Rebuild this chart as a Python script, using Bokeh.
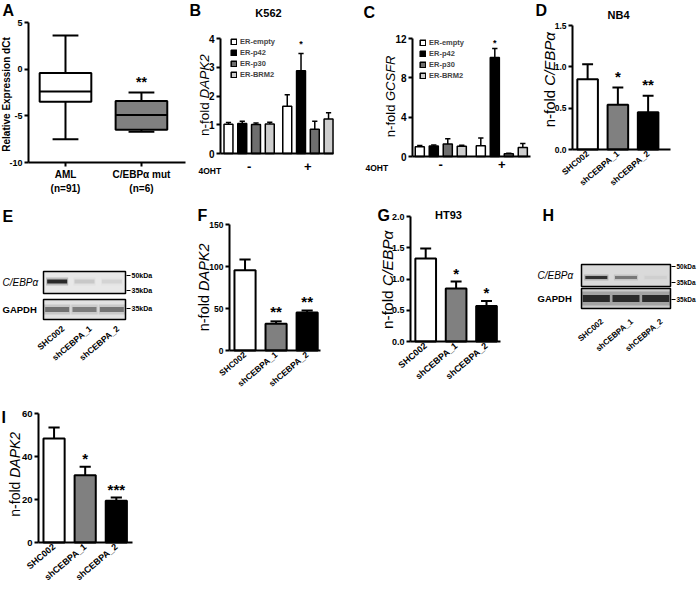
import math
from bokeh.plotting import figure
from bokeh.layouts import row, column
from bokeh.models import Range1d, FixedTicker, Label, Legend, LegendItem, LinearAxis
from bokeh.core.properties import value
from bokeh.embed import file_html
from bokeh.resources import INLINE

FONT = "Liberation Sans"

# ---------------- data ----------------
# A: relative expression dCt (box plot)
A_groups = ["AML\n(n=91)", "C/EBPα mut\n(n=6)"]
A_low = [-7.5, -6.7]
A_q1 = [-3.5, -6.5]
A_median = [-2.4, -4.9]
A_q3 = [-0.4, -3.4]
A_high = [3.6, -2.5]
A_sig = ["", "**"]
A_fill = ["white", "#808080"]
A_yticks = [-10, -5, 0, 5]
A_ytick_labels = ["-10", "-5", "0", "5"]

# B & C: K562 ER-fusion lines, without / with 4OHT
ER_series = ["ER-empty", "ER-p42", "ER-p30", "ER-BRM2"]
ER_colors = ["white", "black", "#6e6e6e", "#cdcdcd"]
OHT_groups = ["-", "+"]
B_minus = [1.02, 1.04, 1.01, 1.03]
B_minus_err = [0.06, 0.08, 0.05, 0.06]
B_plus = [1.64, 2.88, 0.84, 1.20]
B_plus_err = [0.40, 0.60, 0.28, 0.22]
B_plus_sig = ["", "*", "", ""]
B_yticks = [0, 1, 2, 3, 4]
B_ytick_labels = ["0", "1", "2", "3", "4"]

C_minus = [1.00, 1.08, 1.26, 1.05]
C_minus_err = [0.12, 0.08, 0.55, 0.10]
C_plus = [1.10, 10.07, 0.28, 0.92]
C_plus_err = [0.78, 0.92, 0.05, 0.41]
C_plus_sig = ["", "*", "", ""]
C_yticks = [0, 4, 8, 12]
C_ytick_labels = ["0", "4", "8", "12"]

# knockdown panels
SH_labels = ["SHC002", "shCEBPA_1", "shCEBPA_2"]
SH_colors = ["white", "#808080", "black"]

D_mean = [0.85, 0.54, 0.45]
D_err = [0.18, 0.21, 0.20]
D_sig = ["", "*", "**"]
D_yticks = [0, 0.5, 1.0, 1.5]
D_ytick_labels = ["0.0", "0.5", "1.0", "1.5"]

F_mean = [95.5, 31.7, 45.2]
F_err = [12.8, 3.0, 2.4]
F_sig = ["", "**", "**"]
F_yticks = [0, 50, 100, 150]
F_ytick_labels = ["0", "50", "100", "150"]

G_mean = [1.33, 0.85, 0.57]
G_err = [0.16, 0.11, 0.08]
G_sig = ["", "*", "*"]
G_yticks = [0, 0.5, 1.0, 1.5, 2.0]
G_ytick_labels = ["0.0", "0.5", "1.0", "1.5", "2.0"]

I_mean = [48.4, 31.3, 19.4]
I_err = [5.1, 3.9, 1.5]
I_sig = ["", "*", "***"]
I_yticks = [0, 20, 40, 60]
I_ytick_labels = ["0", "20", "40", "60"]

# western blots: relative band intensities per lane
BLOT_rows = ["C/EBPα", "GAPDH"]
BLOT_markers = ["50kDa", "35kDa", "35kDa"]
E_cebpa = [0.9, 0.12, 0.08]
E_gapdh = [0.62, 0.55, 0.6]
H_cebpa = [0.85, 0.45, 0.04]
H_gapdh = [0.92, 0.9, 0.9]


# ---------------- helpers ----------------
def make_panel(fig_box, area, xlim, ylim, axes=True):
    """Figure whose frame fills fig_box; the chart area (page px) maps to xlim/ylim."""
    fx0, fy0, fx1, fy1 = fig_box
    l, t, r, b = area
    sx = (xlim[1] - xlim[0]) / (r - l)
    sy = (ylim[1] - ylim[0]) / (b - t)
    X0 = xlim[0] - (l - fx0) * sx
    X1 = xlim[1] + (fx1 - r) * sx
    Y0 = ylim[0] - (fy1 - b) * sy
    Y1 = ylim[1] + (t - fy0) * sy
    p = figure(width=fx1 - fx0, height=fy1 - fy0,
               x_range=Range1d(X0, X1), y_range=Range1d(Y0, Y1),
               x_axis_location=None, y_axis_location=None,
               output_backend="svg", toolbar_location=None,
               min_border=0, min_border_left=0, min_border_right=0,
               min_border_top=0, min_border_bottom=0)
    p.outline_line_color = None
    p.grid.visible = False
    p.background_fill_color = "white"
    p.border_fill_color = "white"
    yax = xax = None
    if axes:
        yax = LinearAxis(fixed_location=xlim[0], bounds=ylim)
        xax = LinearAxis(fixed_location=ylim[0], bounds=xlim)
        p.add_layout(yax, "left")
        p.add_layout(xax, "below")

    def conv(px, py):
        return X0 + (px - fx0) * sx, Y0 + (fy1 - py) * sy
    return p, conv, yax, xax, sy


def style_axis(ax, size, tick_out=4):
    ax.axis_line_width = 2
    ax.axis_line_color = "black"
    ax.major_tick_line_width = 2
    ax.major_tick_line_color = "black"
    ax.major_tick_out = tick_out
    ax.major_tick_in = 0
    ax.minor_tick_line_color = None
    ax.major_label_text_font = FONT
    ax.major_label_text_font_style = "bold"
    ax.major_label_text_font_size = f"{size}px"
    ax.major_label_text_color = "black"
    ax.major_label_standoff = 2


def add_text(p, conv, px, py, text, size, style="normal", align="left",
             baseline="middle", angle=0.0):
    x, y = conv(px, py)
    p.add_layout(Label(x=x, y=y, text=text, text_font=FONT,
                       text_font_size=f"{size}px", text_font_style=style,
                       text_align=align, text_baseline=baseline, angle=angle,
                       text_color="black"))


def add_ylabel(p, conv, cx, cy, italic_part, em_italic, size):
    plain = "n-fold "
    w1 = 2.78 * size * 1.05
    w2 = em_italic * size * 1.12
    jy = cy + (w2 - w1) / 2.0
    add_text(p, conv, cx, jy, plain, size, "normal", "right", "middle", math.pi / 2)
    add_text(p, conv, cx, jy, italic_part, size, "italic", "left", "middle", math.pi / 2)


def stars(p, xs, ys, labels, size, gap, upp):
    # gap: pixels between the error-bar cap and the centre of the asterisks
    yy = [y + (gap - 0.1 * size) * upp for y in ys]
    p.text(x=xs, y=yy, text=labels, text_align="center", text_baseline="alphabetic",
           text_font=value(FONT), text_font_style="bold",
           text_font_size=f"{size}px", text_color="black")


def error_bars(p, xs, means, errs, cap_w, lw):
    tops = [m + e for m, e in zip(means, errs)]
    p.segment(x0=xs, y0=means, x1=xs, y1=tops, line_color="black", line_width=lw)
    p.segment(x0=[x - cap_w / 2 for x in xs], y0=tops,
              x1=[x + cap_w / 2 for x in xs], y1=tops,
              line_color="black", line_width=lw)
    return tops


# ---------------- panel A ----------------
pA, cA, yA, xA, uA = make_panel((0, 0, 188, 200), (28, 22, 185, 162), (-0.487, 1.58), (-10, 5))
axs = list(range(len(A_groups)))
pA.segment(x0=axs, y0=A_low, x1=axs, y1=A_q1, line_color="black", line_width=2)
pA.segment(x0=axs, y0=A_q3, x1=axs, y1=A_high, line_color="black", line_width=2)
for ys in (A_low, A_high):
    pA.segment(x0=[x - 0.17 for x in axs], y0=ys, x1=[x + 0.17 for x in axs], y1=ys,
               line_color="black", line_width=2)
pA.vbar(x=axs, bottom=A_q1, top=A_q3, width=0.68, fill_color=A_fill,
        line_color="black", line_width=2)
pA.segment(x0=[x - 0.34 for x in axs], y0=A_median, x1=[x + 0.34 for x in axs],
           y1=A_median, line_color="black", line_width=2)
stars(pA, axs, A_high, A_sig, 14, 12, uA)
style_axis(yA, 9)
style_axis(xA, 10)
yA.ticker = FixedTicker(ticks=A_yticks)
yA.major_label_overrides = dict(zip(A_yticks, A_ytick_labels))
xA.ticker = FixedTicker(ticks=axs)
xA.major_label_overrides = dict(zip(axs, A_groups))
xA.major_label_text_line_height = 1.3
add_text(pA, cA, 6, 94, "Relative Expression dCt", 10, "bold", "center", "middle", math.pi / 2)
add_text(pA, cA, 2, 10, "A", 16, "bold", "left", "middle")


# ---------------- panels B and C ----------------
def er_panel(fig_box, area, xlim, gap, ylim, minus, minus_err, plus, plus_err,
             sig, yticks, ytick_labels, legend_topleft, std, star_gap):
    p, conv, yax, xax, upp = make_panel(fig_box, area, xlim, ylim)
    n = len(ER_series)
    items = []
    for s in range(n):
        xs = [s, s + n + gap]
        r = p.vbar(x=xs, top=[minus[s], plus[s]], width=0.65, fill_color=ER_colors[s],
                   line_color="black", line_width=1.5)
        items.append(LegendItem(label=ER_series[s], renderers=[r]))
    xm = list(range(n))
    xp = [s + n + gap for s in range(n)]
    error_bars(p, xm, minus, minus_err, 0.38, 1.5)
    tops = error_bars(p, xp, plus, plus_err, 0.38, 1.5)
    stars(p, xp, tops, sig, 9, star_gap, upp)
    leg_h = 42
    lx = legend_topleft[0] - fig_box[0]
    ly = fig_box[3] - (legend_topleft[1] + leg_h)
    leg = Legend(items=items, location=(lx, ly), margin=0, padding=0, spacing=2,
                 glyph_width=7, glyph_height=7, label_height=9, label_standoff=3,
                 label_text_font=FONT, label_text_font_style="bold",
                 label_text_font_size="7.5px", background_fill_alpha=0,
                 border_line_alpha=0)
    p.add_layout(leg)
    style_axis(yax, 10)
    style_axis(xax, 13, tick_out=0)
    yax.ticker = FixedTicker(ticks=yticks)
    yax.major_label_overrides = dict(zip(yticks, ytick_labels))
    centers = [(n - 1) / 2.0, n + gap + (n - 1) / 2.0]
    xax.ticker = FixedTicker(ticks=centers)
    xax.major_label_overrides = dict(zip(centers, OHT_groups))
    xax.major_tick_line_color = None
    xax.major_label_standoff = std
    return p, conv


pB, cB = er_panel((188, 0, 358, 200), (220, 38, 333, 153), (-0.58, 7.63), 0.27, (0, 4),
                  B_minus, B_minus_err, B_plus, B_plus_err, B_plus_sig,
                  B_yticks, B_ytick_labels, (230, 37), 8, 10)
add_ylabel(pB, cB, 204, 93, "DAPK2", 3.28, 13.5)
add_text(pB, cB, 198, 170, "4OHT", 8.5, "bold", "left", "middle")
add_text(pB, cB, 268, 12, "K562", 11, "bold", "center", "middle")
add_text(pB, cB, 189, 10, "B", 16, "bold", "left", "middle")

pC, cC = er_panel((358, 0, 532, 200), (412, 38, 530, 156), (-0.52, 7.91), 0.36, (0, 12),
                  C_minus, C_minus_err, C_plus, C_plus_err, C_plus_sig,
                  C_yticks, C_ytick_labels, (419, 38), 3, 6)
add_ylabel(pC, cC, 390, 94, "GCSFR", 3.5, 13)
add_text(pC, cC, 365, 167, "4OHT", 8.5, "bold", "left", "middle")
add_text(pC, cC, 363, 12, "C", 16, "bold", "left", "middle")


# ---------------- knockdown bar panels ----------------
def kd_panel(fig_box, area, xend, ylim, means, errs, sig, yticks, ytick_labels,
             tick_size, xlab_size, star_size, star_gap):
    p, conv, yax, xax, upp = make_panel(fig_box, area, (-0.5, xend), ylim)
    xs = list(range(len(means)))
    p.vbar(x=xs, top=means, width=0.68, fill_color=SH_colors, line_color="black", line_width=2)
    tops = error_bars(p, xs, means, errs, 0.36, 2)
    stars(p, xs, tops, sig, star_size, star_gap, upp)
    style_axis(yax, tick_size)
    style_axis(xax, xlab_size, tick_out=0)
    yax.ticker = FixedTicker(ticks=yticks)
    yax.major_label_overrides = dict(zip(yticks, ytick_labels))
    xax.ticker = FixedTicker(ticks=xs)
    xax.major_label_overrides = dict(zip(xs, SH_labels))
    xax.major_tick_line_color = None
    xax.major_label_orientation = math.radians(40)
    xax.major_label_standoff = 3
    return p, conv


pD, cD = kd_panel((532, 0, 698, 200), (572, 25, 670, 149), 2.74, (0, 1.5),
                  D_mean, D_err, D_sig, D_yticks, D_ytick_labels, 8.5, 8.5, 15, 13)
add_ylabel(pD, cD, 549, 77, "C/EBPα", 3.58, 15)
add_text(pD, cD, 618, 14, "NB4", 11, "bold", "center", "middle")
add_text(pD, cD, 535, 10, "D", 16, "bold", "left", "middle")

pF, cF = kd_panel((190, 200, 345, 589), (229, 224, 320, 350), 2.43, (0, 150),
                  F_mean, F_err, F_sig, F_yticks, F_ytick_labels, 8.5, 8.5, 15, 11)
add_ylabel(pF, cF, 203, 285, "DAPK2", 3.28, 14.5)
add_text(pF, cF, 197, 215, "F", 16, "bold", "left", "middle")

pG, cG = kd_panel((345, 200, 520, 589), (410, 216, 500, 341), 2.46, (0, 2),
                  G_mean, G_err, G_sig, G_yticks, G_ytick_labels, 9, 9, 15, 10)
add_ylabel(pG, cG, 387, 277, "C/EBPα", 3.58, 15.5)
add_text(pG, cG, 448, 214, "HT93", 11, "bold", "center", "middle")
add_text(pG, cG, 377, 215, "G", 16, "bold", "left", "middle")

pI, cI = kd_panel((0, 368, 190, 589), (38, 413, 132, 542), 2.52, (0, 60),
                  I_mean, I_err, I_sig, I_yticks, I_ytick_labels, 9.5, 9, 15, 10)
add_ylabel(pI, cI, 14, 472, "DAPK2", 3.28, 14)
add_text(pI, cI, 1, 417, "I", 16, "bold", "left", "middle")


# ---------------- western blots ----------------
def blot_panel(fig_box, box_lr, up_tb, lo_tb, cebpa, gapdh, band_y, bg, band_dims,
               label_x, marker_x, marker_y, marker_size, lane_lab_dy, lane_size, letter):
    fx0, fy0, fx1, fy1 = fig_box
    p, conv, _, _, _ = make_panel(fig_box, fig_box, (0, fx1 - fx0), (0, fy1 - fy0), axes=False)
    bl, br = box_lr
    n = len(SH_labels)
    lane_w = (br - bl) / n
    lanes_px = [bl + (i + 0.5) * lane_w for i in range(n)]
    for (t, b), col in zip((up_tb, lo_tb), bg):
        (x0, y0), (x1, y1) = conv(bl, b), conv(br, t)
        p.quad(left=[x0], right=[x1], bottom=[y0], top=[y1], fill_color=col,
               line_color=None)
    # bands: soft halo + core
    for inten, by, (bw, bh, core) in zip((cebpa, gapdh), band_y, band_dims):
        xs = [conv(x, by)[0] for x in lanes_px]
        yv = conv(lanes_px[0], by)[1]
        p.rect(x=xs, y=[yv] * n, width=bw * 1.1, height=bh * 2.0, fill_color=core,
               fill_alpha=[a * 0.25 for a in inten], line_color=None)
        p.rect(x=xs, y=[yv] * n, width=bw, height=bh, fill_color=core,
               fill_alpha=inten, line_color=None)
    for (t, b) in (up_tb, lo_tb):
        (x0, y0), (x1, y1) = conv(bl, b), conv(br, t)
        p.quad(left=[x0], right=[x1], bottom=[y0], top=[y1], fill_color=None,
               line_color="black", line_width=1.5)
    # row labels
    add_text(p, conv, label_x, (up_tb[0] + up_tb[1]) / 2, BLOT_rows[0], 10, "italic", "left", "middle")
    add_text(p, conv, label_x, (lo_tb[0] + lo_tb[1]) / 2, BLOT_rows[1], 9.5, "bold", "left", "middle")
    # size markers
    for m, my in zip(BLOT_markers, marker_y):
        (sx0, sy), (sx1, _) = conv(br + 1, my), conv(br + 5, my)
        p.segment(x0=[sx0], y0=[sy], x1=[sx1], y1=[sy], line_color="black", line_width=1.2)
        add_text(p, conv, marker_x, my, m, marker_size, "bold", "left", "middle")
    # lane labels
    lx = [conv(x + 6, 0)[0] for x in lanes_px]
    ly = [conv(0, lo_tb[1] + lane_lab_dy)[1]] * n
    p.text(x=lx, y=ly, text=SH_labels, angle=math.radians(40), text_align="right",
           text_baseline="middle", text_font=value(FONT), text_font_style="bold",
           text_font_size=f"{lane_size}px", text_color="black")
    add_text(p, conv, letter[1], letter[2], letter[0], 16, "bold", "left", "middle")
    return p


pE = blot_panel((0, 200, 190, 368), (43, 125), (271, 293), (299, 319), E_cebpa, E_gapdh,
                (281, 309), ("#e8e8e8", "#e2e2e2"),
                ((20, 4, "#1a1a1a"), (24, 5, "#3c3c3c")),
                2, 131, (275, 290, 308), 7, 8, 8.5, ("E", 2, 216))

pH = blot_panel((520, 200, 698, 589), (581, 670), (264, 286), (288, 308), H_cebpa, H_gapdh,
                (277, 298), ("#dadada", "#cbcbcb"),
                ((22, 3, "#1a1a1a"), (27, 7, "#1e1e1e")),
                537, 676, (266, 282, 299), 6.5, 12, 8, ("H", 542, 215))

layout = column(row(pA, pB, pC, pD),
                row(column(pE, pI), pF, pG, pH))

open("out.html", "w").write(file_html(layout, INLINE))
